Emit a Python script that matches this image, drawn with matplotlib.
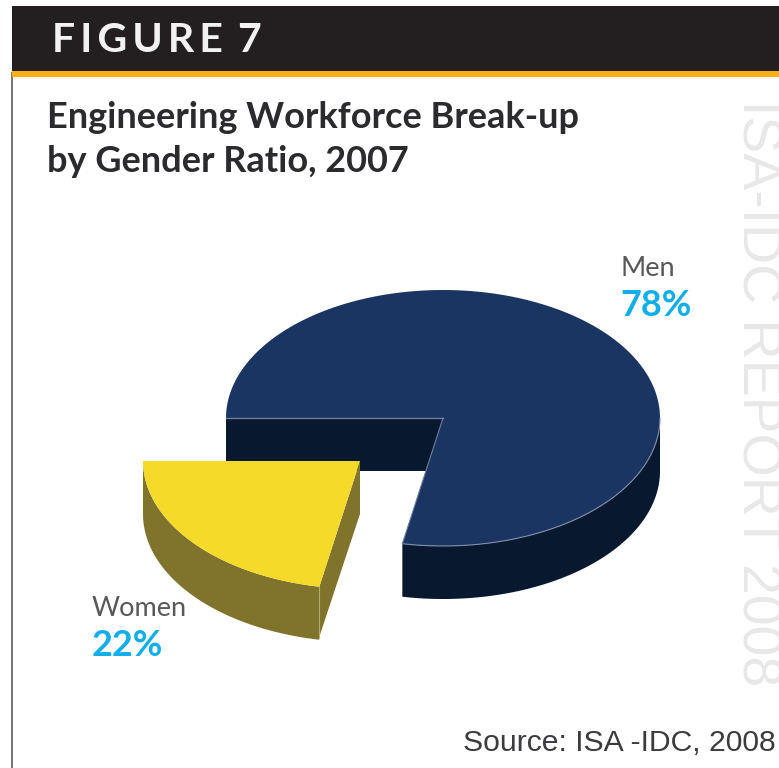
import numpy as np
import matplotlib
matplotlib.use('Agg')
import matplotlib.pyplot as plt
from matplotlib.patches import Polygon, Rectangle

# Gender shares of the engineering workforce (percent)
labels = ['Men', 'Women']
shares = [78, 22]

W, H = 779, 768
fig = plt.figure(figsize=(W / 100, H / 100), dpi=100)
ax = fig.add_axes([0, 0, 1, 1])
ax.set_xlim(0, W)
ax.set_ylim(H, 0)
ax.axis('off')

NAVY, NAVY_DARK = '#1b3563', '#07182f'
YELLOW, OLIVE = '#f5da2a', '#80732b'
CYAN = '#12aeea'
RX, RY, DEPTH = 217, 128, 53


def rim(cx, cy, t0, t1):
    # points on the top ellipse, angles in degrees, screen y pointing down
    t = np.radians(np.linspace(t0, t1, 200))
    return np.column_stack([cx + RX * np.cos(t), cy - RY * np.sin(t)])


def shift(pts):
    return pts + np.array([0, DEPTH])


def face(pts, color, z):
    ax.add_patch(Polygon(pts, closed=True, facecolor=color, edgecolor='none', zorder=z))


# slice angles come from the shares; the small slice starts at 180 degrees
men_sweep = shares[0] * 3.6
women_sweep = shares[1] * 3.6
start = 180
cut = start + women_sweep

# frame and header
ax.add_patch(Rectangle((11.5, 72), 2, H - 72, facecolor='#77777b', edgecolor='none', zorder=1))
ax.add_patch(Rectangle((12.5, 6), W - 12, 65, facecolor='#231f20', edgecolor='none', zorder=2))
ax.add_patch(Rectangle((12.5, 71), W - 12, 6, facecolor='#fbb116', edgecolor='none', zorder=2))
ax.text(52, 40, 'F\u2009I\u2009G\u2009U\u2009R\u2009E\u2009 7', color='#f2f2f2', fontsize=29.5, fontweight='bold',
        family='Lato', va='center', ha='left', zorder=3)

ax.text(47, 118, 'Engineering Workforce Break-up', color='#2b2b2d', fontsize=26, fontweight='bold',
        family='Lato', va='center', ha='left', zorder=3)
ax.text(47, 162, 'by Gender Ratio, 2007', color='#2b2b2d', fontsize=26, fontweight='bold',
        family='Lato', va='center', ha='left', zorder=3)

# rotated report tag on the right edge
ax.text(757, 393, 'ISA-IDC REPORT 2008', color='#e8e8e8', fontsize=40, rotation=270, family='Liberation Sans',
        va='center', ha='center', zorder=1)

# Men slice
mx, my = 443, 418
men_top = np.vstack([[mx, my], rim(mx, my, cut, cut + men_sweep)])
men_outer = rim(mx, my, cut, 360)
face(np.vstack([men_outer, shift(men_outer)[::-1]]), NAVY_DARK, 4)
face([(mx - RX, my), (mx, my), (mx, my + DEPTH), (mx - RX, my + DEPTH)], NAVY_DARK, 4)
face(men_top, NAVY, 5)
ax.plot([mx - RX, mx], [my, my], color='#6d7f9c', lw=1, zorder=6)
ax.plot(men_outer[:, 0], men_outer[:, 1], color='#7f8ea8', lw=0.8, zorder=6)
ax.plot([mx, men_outer[0, 0]], [my, men_outer[0, 1]], color='#6d7f9c', lw=0.8, zorder=6)

# Women slice, pulled out to the lower left
wx, wy = 360, 461
women_top = np.vstack([[wx, wy], rim(wx, wy, start, cut)])
women_outer = rim(wx, wy, start, cut)
face(np.vstack([women_outer, shift(women_outer)[::-1]]), OLIVE, 7)
tip = women_outer[-1]
face([(wx, wy), tip, tip + [0, DEPTH - 3], (wx, wy + DEPTH)], OLIVE, 7)
face(women_top, YELLOW, 8)
ax.plot([tip[0], tip[0]], [tip[1], tip[1] + DEPTH - 3], color='#b5ab6b', lw=0.8, zorder=9)

# slice labels
ax.text(621, 268, labels[0], color='#58585a', fontsize=19.5, family='Lato', va='center', ha='left', zorder=10)
ax.text(620, 305, f'{shares[0]}%', color=CYAN, fontsize=26, fontweight='bold', family='Lato',
        va='center', ha='left', zorder=10)
ax.text(92, 608, labels[1], color='#58585a', fontsize=19.5, family='Lato', va='center', ha='left', zorder=10)
ax.text(92, 646, f'{shares[1]}%', color=CYAN, fontsize=26, fontweight='bold', family='Lato',
        va='center', ha='left', zorder=10)

ax.text(776, 743, 'Source: ISA -IDC, 2008', color='#3c3c3e', fontsize=21.7, family='Liberation Sans',
        va='center', ha='right', zorder=10)

fig.savefig('out.png', dpi=100, facecolor='white')
